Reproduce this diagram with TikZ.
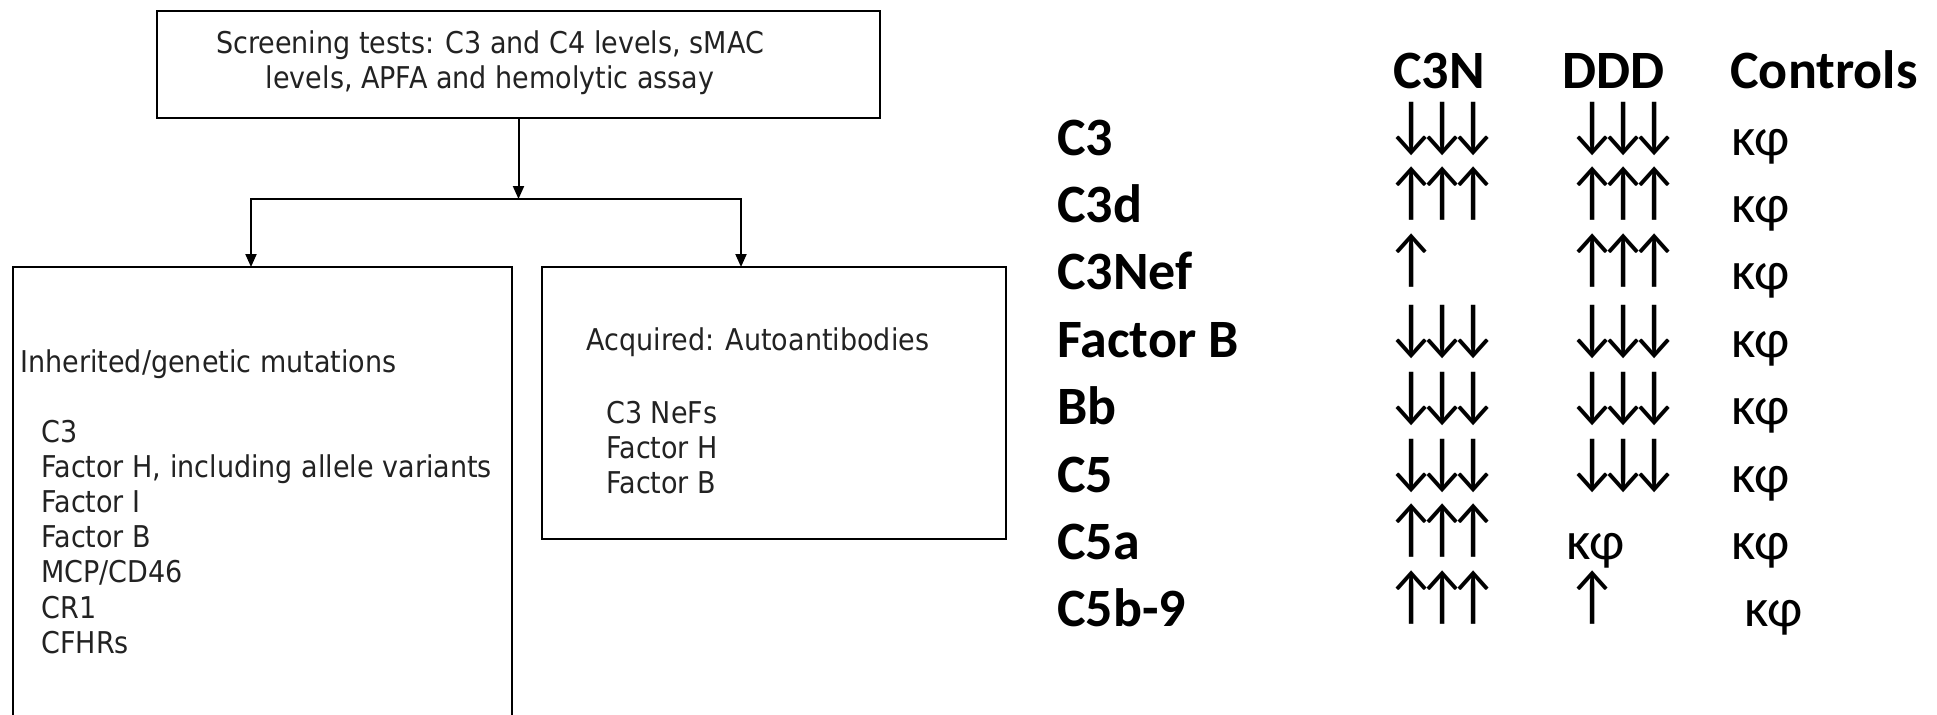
\documentclass[tikz,border=0pt]{standalone}
\usepackage{fontspec}
\setmainfont[FakeStretch=0.9]{DejaVu Sans}
\newfontfamily\tabfont{Carlito}
\usetikzlibrary{arrows.meta}
\definecolor{txtgray}{HTML}{222222}
\newcommand\ak{\kern-11.8pt}
\newcommand\arr[1]{{\tabfont\fontsize{32}{34}\selectfont\raisebox{4.6pt}{\scalebox{0.9}[1]{#1}}}}
\newcommand\kf{{\tabfont\fontsize{27}{30}\selectfont κφ}}
\begin{document}
\begin{tikzpicture}[x=0.5pt,y=-0.5pt,
  box/.style={draw=black, line width=1pt, inner sep=0pt, outer sep=0pt},
  conn/.style={draw=black, line width=1pt},
  tip/.style={-{Triangle[length=6.5pt,width=5.5pt]}},
  lt/.style={font=\fontsize{15}{17.5}\selectfont, text=txtgray, inner sep=0pt, anchor=base west},
  tlab/.style={font=\tabfont\bfseries\fontsize{27}{30}\selectfont, text=black, inner sep=0pt, anchor=base west},
  cell/.style={text=black, inner sep=0pt, anchor=base west}]
\useasboundingbox (0,0) rectangle (1937,714);
\clip (0,0) rectangle (1937,714);
% boxes
\node[box, minimum width=361.5pt, minimum height=53.5pt] (top) at (518.5,64.5) {};
\node[box, minimum width=249.5pt, minimum height=236.5pt] (lbox) at (262.5,503.5) {};
\node[box, minimum width=232pt, minimum height=136pt] (rbox) at (774,403) {};
% top text
\node[lt, anchor=base] (t1) at (490,53) {Screening tests: C3 and C4 levels, sMAC};
\node[lt, anchor=base] (t2) at (490,88) {levels, APFA and hemolytic assay};
% connectors
\coordinate (jl) at (251,199);
\coordinate (jr) at (741,199);
\draw[conn,tip] (top.south) -- (top.south |- jl);
\draw[conn, line cap=rect] (jl) -- (jr);
\draw[conn,tip] (jl) -- (jl |- lbox.north);
\draw[conn,tip] (jr) -- (jr |- rbox.north);
% left box text
\node[lt] (inh) at (20,372) {Inherited/genetic mutations};
\foreach \t [count=\i from 0] in {C3, {Factor H, including allele variants}, Factor I, Factor B, MCP/CD46, CR1, CFHRs}
  \node[lt] (li\i) at (41,{442+35.2*\i}) {\t};
% right box text
\node[lt] (acq) at (586,350) {Acquired: Autoantibodies};
\foreach \t [count=\i from 0] in {C3 NeFs, Factor H, Factor B}
  \node[lt] (ri\i) at (606,{423+35*\i}) {\t};
% table header
\node[tlab] (hc3n) at (1393,88) {C3N};
\node[tlab] (hddd) at (1562,88) {DDD};
\node[tlab] (hctl) at (1730,88) {Controls};
% table rows
\foreach \lab/\ca/\cb/\cc/\dx [count=\i from 0] in {
  C3/\arr{↓\ak↓\ak↓}/\arr{↓\ak↓\ak↓}/\kf/0,
  C3d/\arr{↑\ak↑\ak↑}/\arr{↑\ak↑\ak↑}/\kf/0,
  C3Nef/\arr{↑}/\arr{↑\ak↑\ak↑}/\kf/0,
  Factor B/\arr{↓\ak↓\ak↓}/\arr{↓\ak↓\ak↓}/\kf/0,
  Bb/\arr{↓\ak↓\ak↓}/\arr{↓\ak↓\ak↓}/\kf/0,
  C5/\arr{↓\ak↓\ak↓}/\arr{↓\ak↓\ak↓}/\kf/0,
  C5a/\arr{↑\ak↑\ak↑}/\kf/\kf/0,
  C5b-9/\arr{↑\ak↑\ak↑}/\arr{↑}/\kf/13}
{
  \pgfmathsetmacro\yb{155+67.4*\i}
  \node[tlab] (lab\i) at (1057,\yb) {\lab};
  \node[cell] (cn\i) at (1385,\yb) {\ca};
  \node[cell] (dd\i) at (1566,\yb) {\cb};
  \node[cell] (ct\i) at (1731+\dx,\yb) {\cc};
}
\end{tikzpicture}
\end{document}
